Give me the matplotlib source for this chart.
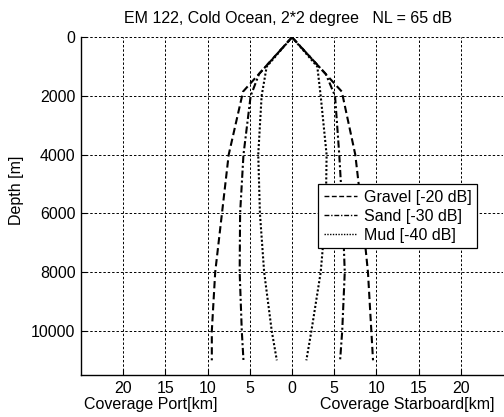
import numpy as np
import matplotlib
matplotlib.use('Agg')
import matplotlib.pyplot as plt

plt.rcParams.update({
    'font.family': ['Liberation Sans', 'DejaVu Sans'],
    'font.size': 11.5,
})

# port side (negative km) and starboard side (positive km)
gravel_depth = [0, 1850, 4000, 6000, 8000, 10000, 11000]
gravel_port = [0, -5.8, -7.5, -8.3, -9.1, -9.5, -9.5]
gravel_stbd = [0, 5.9, 7.5, 8.3, 9.0, 9.4, 9.6]

sand_depth = [0, 1250, 2000, 4000, 6000, 8000, 10000, 11000]
sand_port = [0, -3.9, -4.9, -5.75, -6.15, -6.2, -5.95, -5.75]
sand_stbd = [0, 4.0, 5.1, 5.6, 6.0, 6.25, 5.95, 5.7]

mud_depth = [0, 1000, 2000, 4000, 6000, 8000, 10000, 11000]
mud_port = [0, -3.0, -3.6, -4.0, -3.8, -3.3, -2.4, -1.8]
mud_stbd = [0, 3.0, 3.4, 4.1, 4.0, 3.4, 2.3, 1.7]

xticks = [-20, -15, -10, -5, 0, 5, 10, 15, 20]
yticks = [0, 2000, 4000, 6000, 8000, 10000]

fig = plt.figure(figsize=(5.04, 4.17), dpi=100)
ax = fig.add_axes([81/504, 1 - 375/417, 422/504, (375 - 37.25)/417])

ax.plot(gravel_port, gravel_depth, color='k', lw=1.5, ls=(0, (3.5, 1.8)), label='Gravel [-20 dB]')
ax.plot(gravel_stbd, gravel_depth, color='k', lw=1.5, ls=(0, (3.5, 1.8)))
ax.plot(sand_port, sand_depth, color='k', lw=1.5, ls=(0, (3.5, 1.3, 1, 1.3)), label='Sand [-30 dB]')
ax.plot(sand_stbd, sand_depth, color='k', lw=1.5, ls=(0, (3.5, 1.3, 1, 1.3)))
ax.plot(mud_port, mud_depth, color='k', lw=1.5, ls=(0, (1, 1.0)), label='Mud [-40 dB]')
ax.plot(mud_stbd, mud_depth, color='k', lw=1.5, ls=(0, (1, 1.0)))

ax.set_xlim(-25, 25)
ax.set_ylim(11500, 0)
ax.set_xticks(xticks)
ax.set_xticklabels([str(abs(t)) for t in xticks])
ax.set_yticks(yticks)
ax.tick_params(direction='in', length=4, width=0.8, pad=4, colors='k')
ax.grid(True, color='k', lw=0.7, ls=(0, (2.5, 2)))
ax.spines['top'].set_visible(False)
ax.spines['right'].set_visible(False)
for s in ('left', 'bottom'):
    ax.spines[s].set_linewidth(1.0)

leg = ax.legend(loc='upper left', bbox_to_anchor=((318 - 81)/422, 1 - (184 - 37.25)/337.75),
                fancybox=False, framealpha=1, edgecolor='k', borderaxespad=0,
                handlelength=2.1, handletextpad=0.4, labelspacing=0.25, borderpad=0.35)
leg.get_frame().set_linewidth(0.9)
for h in leg.get_lines():
    h.set_linewidth(1.0)

fig.text(288/504, 1 - 18/417, 'EM 122, Cold Ocean, 2*2 degree   NL = 65 dB', ha='center', va='center')
fig.text(151/504, 1 - 405/417, 'Coverage Port[km]', ha='center', va='center')
fig.text(407/504, 1 - 405/417, 'Coverage Starboard[km]', ha='center', va='center')
fig.text(16/504, 1 - 190/417, 'Depth [m]', ha='center', va='center', rotation=90)

fig.savefig('out.png', dpi=100)
